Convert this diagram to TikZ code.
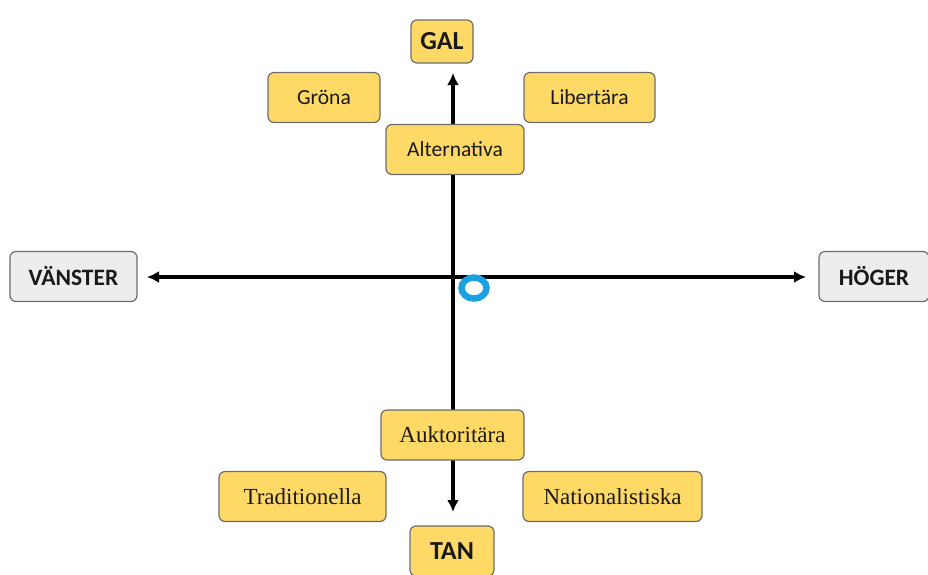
\documentclass[tikz,border=0pt]{standalone}
\usepackage{fontspec}
\setmainfont{Carlito}
\newfontfamily\serifnt{Liberation Serif}
\usetikzlibrary{positioning,arrows.meta}

\definecolor{boxyellow}{HTML}{FFD966}
\definecolor{boxgray}{HTML}{EDEDED}
\definecolor{ringblue}{HTML}{1BA1E2}

\tikzset{
    party/.style={draw=gray!85!black, line width=1.2pt, rounded corners=6pt, fill=boxyellow,
                  text=black!90, minimum height=50pt, font=\fontsize{21.5}{23}\selectfont},
    oldparty/.style={party, font=\serifnt\fontsize{23}{25}\selectfont},
    pole/.style={party, font=\bfseries\fontsize{26}{28}\selectfont},
    side/.style={pole, fill=boxgray, font=\bfseries\fontsize{23.5}{25}\selectfont},
    axis/.style={line width=3.5pt, -{Latex[length=12pt,width=12pt]}}
}

\begin{document}
\begin{tikzpicture}[x=1pt, y=-1pt]
    \useasboundingbox (0,0) rectangle (928,574);

    % the two axes, behind the boxes
    \coordinate (O) at (453,277);
    \coordinate (N) at (453,73);
    \coordinate (S) at (453,512);
    \coordinate (W) at (147,277);
    \coordinate (E) at (806,277);
    \draw[axis] (O) -- (N);
    \draw[axis] (O) -- (S);
    \draw[axis] (O) -- (W);
    \draw[axis] (O) -- (E);

    \node(GAL) [pole, minimum width=62pt, minimum height=43pt] at (442,41.5){GAL};
    \node(TAN) [pole, minimum width=84pt] at (452,551){TAN};
    \node(VS) [side, minimum width=127pt] at (73.5,276.5){VÄNSTER};
    \node(HG) [side, minimum width=110pt] at (874,276.5){HÖGER};

    \node(AL) [party, minimum width=138pt] at (455,149.5){Alternativa};
    \node(GR) [party, minimum width=112pt] at (324,97.5){Gröna};
    \node(LI) [party, minimum width=131pt] at (589.5,97.5){Libertära};

    \node(AU) [oldparty, minimum width=143pt] at (452.5,435){Auktoritära};
    \node(TR) [oldparty, minimum width=167pt] at (302.5,496.5){Traditionella};
    \node(NA) [oldparty, minimum width=179pt] at (612.5,496.5){Nationalistiska};

    \draw[ringblue, line width=6.5pt] (474,288) ellipse (12.5pt and 10.5pt);
\end{tikzpicture}
\end{document}
